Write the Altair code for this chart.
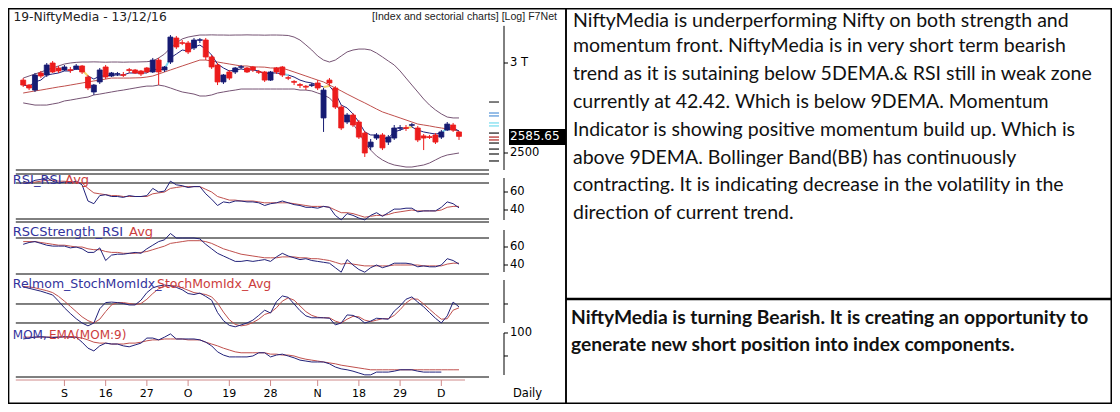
import altair as alt
import pandas as pd

W, H = 1104, 396


def X(v):
    # reference-pixel layout -> view pixel (page has an 8px margin)
    if v <= 20:
        r = v * 12 / 20
    elif v >= 1095:
        r = 1087 + (v - 1095) * 16.25 / 23
    else:
        r = v - 8
    return round(r, 2)


def Y(v):
    if v <= 28:
        r = v * 20 / 28
    elif v >= 390:
        r = 382 + (v - 390) * 13.25 / 21
    else:
        r = v - 8
    return round(r, 2)


NAVY = "#161b72"
RED = "#ec1c1c"
BAND = "#765474"
AVG = "#c0504d"
LINE = "#22227a"
BLACK = "#000000"
LBLUE = "#33339c"
LRED = "#cc3d3d"

# ---------------- data ----------------
opens = [2898, 2869, 2840, 2940, 2928, 3000, 2970, 2958, 2960, 2964,
         2982, 2916, 2829, 2887, 2976, 2922, 2933, 2930, 2960, 2958,
         2952, 2970, 2946, 3018, 2958, 3006, 3156, 3126, 3124, 3093,
         3141, 3143, 3037, 2988, 2887, 2946, 2946, 2974, 2970, 2976,
         2948, 2946, 2898, 2970, 2976, 2912, 2890, 2872, 2862, 2866,
         2881, 2684, 2898, 2852, 2744, 2662, 2700, 2662, 2603, 2531,
         2577, 2593, 2556, 2577, 2628, 2632, 2644, 2630, 2588, 2584,
         2593, 2582, 2619, 2646, 2609]
highs = [2910, 2875, 2940, 2952, 3000, 3012, 2982, 2988, 2976, 2994,
         2988, 2928, 2875, 2970, 2988, 2946, 2946, 2946, 2970, 2964,
         2958, 2976, 3031, 3031, 2982, 3175, 3169, 3143, 3137, 3156,
         3156, 3156, 3049, 3000, 2934, 2958, 2976, 2988, 2976, 2982,
         2958, 2952, 2952, 2976, 2982, 2922, 2898, 2881, 2869, 2881,
         2898, 2852, 2910, 2863, 2755, 2711, 2711, 2673, 2614, 2572,
         2603, 2603, 2593, 2646, 2646, 2646, 2657, 2641, 2598, 2593,
         2603, 2619, 2662, 2657, 2614]
lows = [2858, 2840, 2829, 2910, 2916, 2940, 2940, 2952, 2940, 2958,
        2934, 2840, 2812, 2875, 2904, 2916, 2922, 2916, 2940, 2934,
        2922, 2940, 2940, 2869, 2946, 2994, 3086, 3111, 3055, 3080,
        3124, 3018, 2964, 2869, 2875, 2898, 2934, 2964, 2940, 2946,
        2934, 2887, 2893, 2934, 2916, 2898, 2869, 2852, 2840, 2858,
        2840, 2609, 2863, 2733, 2619, 2651, 2635, 2572, 2480, 2515,
        2567, 2515, 2541, 2567, 2614, 2614, 2635, 2556, 2515, 2572,
        2546, 2572, 2614, 2609, 2567]
closes = [2869, 2852, 2928, 2922, 2988, 2946, 2952, 2976, 2955, 2982,
          2946, 2852, 2869, 2958, 2916, 2940, 2936, 2926, 2955, 2940,
          2934, 2946, 3018, 2946, 2976, 3162, 3099, 3122, 3068, 3143,
          3145, 3037, 2976, 2887, 2928, 2910, 2970, 2978, 2946, 2958,
          2944, 2898, 2946, 2946, 2928, 2909, 2885, 2867, 2857, 2871,
          2852, 2840, 2881, 2744, 2630, 2700, 2646, 2582, 2500, 2556,
          2593, 2526, 2582, 2630, 2632, 2628, 2648, 2567, 2577, 2580,
          2556, 2609, 2651, 2619, 2585.65]
bb_upper = [2910, 2922, 2934, 2946, 2958, 2970, 2982, 2994, 3000, 3004,
            3006, 3006, 3007, 3006, 3005, 3006, 3006, 3005, 3006, 3006,
            3007, 3008, 3012, 3031, 3055, 3093, 3124, 3150, 3162, 3169,
            3175, 3175, 3176, 3175, 3175, 3174, 3175, 3175, 3176, 3175,
            3175, 3174, 3175, 3175, 3174, 3172, 3162, 3143, 3112, 3080,
            3043, 3018, 3006, 3018, 3043, 3068, 3080, 3086, 3086, 3080,
            3061, 3037, 3012, 2988, 2952, 2910, 2869, 2829, 2789, 2755,
            2728, 2706, 2689, 2684, 2684]
bb_mid = [2823, 2829, 2835, 2840, 2846, 2852, 2858, 2863, 2869, 2875,
          2881, 2887, 2893, 2898, 2904, 2910, 2910, 2910, 2910, 2911,
          2912, 2916, 2922, 2934, 2946, 2958, 2970, 2982, 2994, 3006,
          3018, 3018, 3012, 3006, 3000, 2994, 2988, 2982, 2982, 2976,
          2976, 2975, 2970, 2970, 2969, 2958, 2946, 2934, 2922, 2910,
          2898, 2887, 2869, 2852, 2835, 2817, 2800, 2783, 2767, 2750,
          2733, 2717, 2706, 2695, 2684, 2673, 2662, 2651, 2646, 2641,
          2635, 2630, 2625, 2619, 2614]
bb_lower = [2767, 2761, 2755, 2755, 2755, 2761, 2767, 2778, 2783, 2789,
            2795, 2800, 2812, 2817, 2823, 2829, 2835, 2840, 2846, 2852,
            2858, 2863, 2863, 2869, 2863, 2852, 2840, 2829, 2823, 2817,
            2806, 2806, 2812, 2823, 2829, 2835, 2840, 2846, 2846, 2846,
            2846, 2846, 2846, 2846, 2846, 2846, 2846, 2840, 2840, 2835,
            2823, 2812, 2795, 2761, 2717, 2684, 2651, 2609, 2551, 2515,
            2485, 2465, 2450, 2440, 2435, 2430, 2430, 2435, 2440, 2450,
            2465, 2480, 2490, 2495, 2500]
ema5 = [2869, 2863, 2887, 2898, 2928, 2934, 2940, 2952, 2952, 2964,
        2958, 2922, 2904, 2922, 2922, 2928, 2928, 2928, 2940, 2940,
        2940, 2940, 2964, 2958, 2964, 3031, 3055, 3080, 3074, 3099,
        3111, 3086, 3049, 2994, 2970, 2952, 2958, 2964, 2958, 2958,
        2952, 2934, 2940, 2940, 2934, 2928, 2916, 2898, 2887, 2881,
        2869, 2858, 2863, 2823, 2755, 2739, 2706, 2662, 2609, 2593,
        2593, 2572, 2577, 2609, 2619, 2630, 2635, 2619, 2609, 2603,
        2598, 2603, 2630, 2630, 2614]
rsi = [72, 70, 73, 74, 76, 72, 70, 71, 70, 72,
       68, 50, 47, 56, 57, 55, 55, 54, 56, 55,
       55, 56, 64, 60, 61, 72, 68, 67, 65, 66,
       66, 58, 52, 45, 49, 48, 50, 50, 49, 49,
       48, 45, 47, 48, 50, 48, 46, 45, 43, 43,
       42, 44, 43, 34, 29, 36, 34, 31, 29, 34,
       37, 33, 37, 41, 41, 42, 42, 38, 39, 39,
       39, 43, 49, 47, 42.42]
rsi_avg = [70, 70, 71, 72, 73, 73, 72, 72, 71, 71,
           70, 64, 59, 58, 57, 56, 56, 55, 55, 55,
           55, 55, 58, 59, 60, 64, 65, 66, 66, 66,
           66, 63, 60, 55, 53, 51, 51, 50, 50, 50,
           49, 48, 48, 48, 48, 48, 47, 46, 45, 44,
           44, 44, 43, 40, 37, 37, 36, 34, 32, 33,
           34, 34, 35, 37, 38, 39, 40, 39, 39, 39,
           39, 40, 43, 44, 44]
rsc = [63, 65, 66, 64, 62, 61, 61, 61, 59, 60,
       58, 54, 54, 59, 45, 51, 52, 52, 53, 54,
       53, 58, 62, 66, 68, 75, 70, 70, 70, 70,
       69, 63, 58, 53, 50, 47, 44, 44, 45, 44,
       45, 46, 44, 49, 53, 50, 48, 46, 47, 45,
       44, 43, 42, 37, 32, 46, 40, 35, 32, 37,
       40, 37, 39, 42, 42, 42, 41, 38, 39, 38,
       38, 40, 47, 45, 41]
rsc_avg = [66, 66, 66, 65, 64, 63, 62, 62, 61, 60,
           60, 58, 57, 57, 55, 54, 54, 53, 53, 53,
           54, 55, 57, 59, 61, 64, 65, 66, 67, 67,
           67, 66, 64, 61, 58, 56, 54, 52, 51, 50,
           49, 48, 48, 48, 49, 49, 49, 48, 48, 47,
           47, 46, 45, 43, 41, 42, 41, 40, 39, 39,
           39, 39, 39, 40, 40, 40, 40, 40, 39, 39,
           39, 39, 41, 42, 42]
smi = [36, 33, 30, 27, 23, 19, 6, -8, -20, -31,
       -40, -46, -40, -10, 3, 4, 3, 1, -2, -2,
       8, 24, 34, 38, 40, 38, 35, 30, 22, 20,
       23, 16, 8, -18, -35, -45, -48, -44, -40, -34,
       -24, -13, -19, 5, 17, 14, 0, -14, -25, -29,
       -29, -29, -30, -44, -40, -23, -24, -30, -40, -36,
       -30, -31, -32, -15, -4, 10, 15, 4, -6, -18,
       -30, -40, -25, 4, -6]
smi_avg = [37, 36, 34, 31, 28, 24, 16, 6, -5, -16,
           -27, -35, -40, -32, -16, -2, 3, 3, 1, -1,
           1, 10, 22, 32, 37, 39, 38, 34, 29, 24,
           22, 20, 15, 2, -17, -33, -43, -46, -44, -39,
           -32, -22, -18, -8, 6, 13, 8, -4, -16, -24,
           -28, -29, -29, -36, -40, -32, -26, -27, -34, -37,
           -34, -31, -31, -24, -12, 2, 11, 10, 0, -11,
           -22, -32, -31, -13, -8]
mom = [98.7, 98.9, 99.1, 99.2, 99.1, 99.0, 99.1, 99.2, 99.1, 99.1,
       98.0, 96.7, 96.1, 97.2, 97.8, 97.6, 97.6, 97.2, 97.0, 97.4,
       97.8, 98.9, 98.9, 98.5, 99.1, 99.8, 98.7, 98.7, 98.7, 98.7,
       98.5, 98.0, 97.2, 95.9, 95.2, 94.8, 94.8, 94.8, 94.8, 95.0,
       95.7, 95.7, 94.8, 95.2, 95.4, 95.0, 94.6, 94.1, 93.9, 93.7,
       93.7, 93.7, 93.3, 92.6, 92.2, 92.0, 91.7, 91.3, 90.9, 90.9,
       91.5, 91.5, 91.5, 91.7, 92.0, 92.0, 92.0, 91.7, 91.5, 91.5,
       91.5, 91.5, None, None, None]
mom_ema = [99.1, 99.1, 99.1, 99.1, 99.1, 99.1, 99.1, 99.1, 99.1, 99.1,
           98.9, 98.5, 98.0, 97.8, 97.8, 97.6, 97.6, 97.6, 97.8, 97.8,
           98.0, 98.3, 98.5, 98.5, 98.7, 98.7, 98.7, 98.7, 98.5, 98.5,
           98.5, 98.0, 97.6, 97.2, 96.7, 96.3, 95.9, 95.7, 95.7, 95.7,
           95.7, 95.7, 95.4, 95.4, 95.2, 95.2, 95.0, 94.6, 94.3, 94.1,
           93.9, 93.7, 93.5, 93.3, 93.0, 92.8, 92.6, 92.4, 92.2, 92.0,
           92.0, 92.0, 92.0, 92.0, 92.0, 92.0, 92.0, 92.0, 92.0, 92.0,
           92.0, 92.0, 92.0, 92.0, 92.0]

hl_start = [10, 24, 44, 51, 65, 71]
hl_color = ["#f3d36b", "#7fd8f0", "#7fd8f0", "#f3d36b", "#f3d36b", "#7fd8f0"]

level_prices = [2772, 2711, 2695, 2657, 2641, 2603, 2582, 2567, 2551, 2520, 2495, 2460]
level_colors = ["#555555", "#74a9e0", "#74a9e0", "#8fe3f2", "#8fe3f2", "#444444",
                "#c0504d", "#c0504d", "#444444", "#444444", "#444444", "#444444"]

xtick_idx = [7, 14, 21, 28, 35, 42, 50, 57, 64, 71]
xtick_lab = ["S", "16", "27", "O", "19", "28", "N", "18", "29", "D"]

text_lines = [
    "NiftyMedia is underperforming Nifty on both strength and",
    "momentum front. NiftyMedia is in very short term bearish",
    "trend as it is sutaining below 5DEMA.& RSI still in weak zone",
    "currently at 42.42. Which is below 9DEMA. Momentum",
    "Indicator is showing positive momentum build up. Which is",
    "above 9DEMA. Bollinger Band(BB) has continuously",
    "contracting. It is indicating decrease in the volatility in the",
    "direction of current trend.",
]
bold_lines = [
    "NiftyMedia is turning Bearish. It is creating an opportunity to",
    "generate new short position into index components.",
]

# ---------------- tables ----------------
n = len(closes)
df = pd.DataFrame({
    "i": list(range(n)), "open": opens, "high": highs, "low": lows, "close": closes,
    "upper": bb_upper, "mid": bb_mid, "lower": bb_lower, "ema5": ema5,
    "rsi": rsi, "rsi_avg": rsi_avg, "rsc": rsc, "rsc_avg": rsc_avg,
    "smi": smi, "smi_avg": smi_avg, "mom": mom, "mom_ema": mom_ema,
})
df["dir"] = ["up" if c >= o else "down" for o, c in zip(opens, closes)]

hl_rows = []
for k, (s, c) in enumerate(zip(hl_start, hl_color)):
    for j in (s, s + 1):
        hl_rows.append({"i": j, "ema5": ema5[j], "seg": k, "c": c})
hl_df = pd.DataFrame(hl_rows)

ONE = pd.DataFrame({"k": [0]})

xs = alt.Scale(domain=[0, n - 1], range=[X(17), X(464)], nice=False, zero=False)
ps = alt.Scale(type="log", domain=[2415.4, 3207.5], range=[Y(170), Y(30)], nice=False)
rsi_s = alt.Scale(domain=[26.667, 80], range=[Y(222), Y(174)], nice=False, zero=False)
rsc_s = alt.Scale(domain=[30, 87.78], range=[Y(274), Y(222)], nice=False, zero=False)
smi_s = alt.Scale(domain=[-54.74, 58.95], range=[Y(330), Y(276)], nice=False, zero=False)
mom_s = alt.Scale(domain=[89.78, 101.52], range=[Y(380), Y(326)], nice=False, zero=False)

xenc = alt.X("i:Q", scale=xs, axis=None)
dir_scale = alt.Scale(domain=["up", "down"], range=[NAVY, RED])

layers = []


def text(t, x, y, size=12, color=BLACK, align="left", font="DejaVu Sans", weight="normal"):
    return alt.Chart(pd.DataFrame({"t": [t]})).mark_text(
        align=align, baseline="middle", font=font, fontSize=size, color=color,
        fontWeight=weight).encode(x=alt.value(X(x)), y=alt.value(Y(y)), text="t:N")


def hline(x1, x2, y, color=BLACK, w=1.0):
    return alt.Chart(ONE).mark_rule(color=color, strokeWidth=w).encode(
        x=alt.value(X(x1)), x2=alt.value(X(x2)), y=alt.value(Y(y)))


def vline(x, y1, y2, color=BLACK, w=1.0):
    return alt.Chart(ONE).mark_rule(color=color, strokeWidth=w).encode(
        x=alt.value(X(x)), y=alt.value(Y(y1)), y2=alt.value(Y(y2)))


def levels(vals, scale, x1=13, x2=489, color=BLACK, w=1.0):
    return alt.Chart(pd.DataFrame({"v": vals})).mark_rule(color=color, strokeWidth=w).encode(
        y=alt.Y("v:Q", scale=scale, axis=None), x=alt.value(X(x1)), x2=alt.value(X(x2)))


def axis_ticks(vals, labs, scale, size=11):
    d = pd.DataFrame({"v": vals, "t": labs})
    tk = alt.Chart(d).mark_rule(color=BLACK, strokeWidth=1).encode(
        y=alt.Y("v:Q", scale=scale, axis=None), x=alt.value(X(504)), x2=alt.value(X(508)))
    lb = alt.Chart(d).mark_text(align="left", baseline="middle", font="DejaVu Sans",
                                fontSize=size, color=BLACK).encode(
        y=alt.Y("v:Q", scale=scale, axis=None), x=alt.value(X(510)), text="t:N")
    return [tk, lb]


def series(field, scale, color, w=1.0):
    return alt.Chart(df).mark_line(color=color, strokeWidth=w).encode(
        x=xenc, y=alt.Y(f"{field}:Q", scale=scale, axis=None))


# ---------------- panel separator / level lines ----------------
layers += [hline(13, 489, 170), hline(13, 489, 174), hline(13, 489, 222)]
layers.append(levels([70, 30], rsi_s))
layers.append(levels([70, 30], rsc_s))
layers.append(levels([0, -40], smi_s))
layers.append(hline(13, 489, 377))

# ---------------- price panel ----------------
layers.append(series("upper", ps, BAND))
layers.append(series("lower", ps, BAND))
layers.append(series("mid", ps, AVG))
layers.append(series("ema5", ps, LINE))
layers.append(alt.Chart(hl_df).mark_line(strokeWidth=2).encode(
    x=xenc, y=alt.Y("ema5:Q", scale=ps, axis=None), detail="seg:N",
    color=alt.Color("c:N", scale=None)))
layers.append(alt.Chart(df).mark_rule(strokeWidth=1).encode(
    x=xenc, y=alt.Y("low:Q", scale=ps, axis=None), y2="high:Q",
    color=alt.Color("dir:N", scale=dir_scale, legend=None)))
layers.append(alt.Chart(df).mark_bar(size=5, strokeWidth=0.8).encode(
    x=xenc, y=alt.Y("open:Q", scale=ps, axis=None), y2="close:Q",
    color=alt.Color("dir:N", scale=dir_scale, legend=None),
    stroke=alt.Stroke("dir:N", scale=dir_scale, legend=None)))

# price level marks at right
layers.append(alt.Chart(pd.DataFrame({"p": level_prices, "c": level_colors})).mark_rule(
    strokeWidth=1.5).encode(y=alt.Y("p:Q", scale=ps, axis=None), x=alt.value(X(489)),
                            x2=alt.value(X(499)), color=alt.Color("c:N", scale=None)))

# ---------------- indicator panels ----------------
layers.append(series("rsi_avg", rsi_s, AVG))
layers.append(series("rsi", rsi_s, LINE))
layers.append(series("rsc_avg", rsc_s, AVG))
layers.append(series("rsc", rsc_s, LINE))
layers.append(series("smi_avg", smi_s, AVG))
layers.append(series("smi", smi_s, LINE))
layers.append(series("mom_ema", mom_s, AVG))
layers.append(series("mom", mom_s, LINE))

# ---------------- right axes ----------------
layers.append(vline(504, 25, 170))
layers += axis_ticks([3000, 2500], ["3 T", "2500"], ps, 11.5)
layers.append(vline(504, 178, 220))
layers += axis_ticks([60, 40], ["60", "40"], rsi_s, 11.5)
layers.append(vline(504, 230, 272))
layers += axis_ticks([60, 40], ["60", "40"], rsc_s, 11.5)
layers.append(vline(504, 280, 323))
layers += axis_ticks([0], [""], smi_s)
layers.append(vline(504, 333, 375))
layers += axis_ticks([100, 95], ["100", ""], mom_s, 11.5)

# last price box
layers.append(alt.Chart(ONE).mark_rect(color=BLACK).encode(
    x=alt.value(X(509)), x2=alt.value(X(566)), y=alt.value(Y(129)), y2=alt.value(Y(145))))
layers.append(alt.Chart(pd.DataFrame({"v": [closes[-1]], "t": [f"{closes[-1]:.2f}"]})).mark_text(
    align="left", baseline="middle", font="DejaVu Sans", fontSize=12, color="white").encode(
    y=alt.Y("v:Q", scale=ps, axis=None), x=alt.value(X(510)), text="t:N"))

# ---------------- x axis ----------------
layers.append(hline(13, 465, 380, color="#cf8a8a"))
xt = pd.DataFrame({"i": xtick_idx, "t": xtick_lab})
layers.append(alt.Chart(xt).mark_rule(color="#cf8a8a").encode(
    x=xenc, y=alt.value(Y(380)), y2=alt.value(Y(386))))
layers.append(alt.Chart(xt).mark_text(baseline="middle", font="DejaVu Sans", fontSize=11,
                                      color=BLACK).encode(x=xenc, y=alt.value(Y(397)), text="t:N"))
layers.append(text("Daily", 513, 397, 11.5))

# ---------------- titles / labels ----------------
layers.append(text("19-NiftyMedia - 13/12/16", 9, 13, 12.3, "#222222"))
layers.append(text("[Index and sectorial charts] [Log] F7Net", 557, 13, 10.6, "#222222",
                   align="right", font="Liberation Sans"))
layers.append(text("RSI_RSI", 8, 180, 13, LBLUE))
layers.append(text("Avg", 65, 180, 13, LRED))
layers.append(text("RSCStrength_RSI", 8, 232, 13, LBLUE))
layers.append(text("Avg", 129, 232, 13, LRED))
layers.append(text("Relmom_StochMomIdx_", 8, 284, 12.5, LBLUE))
layers.append(text("StochMomIdx_Avg", 157, 284, 12.5, LRED))
layers.append(text("MOM,", 8, 335, 12, LBLUE))
layers.append(text("EMA(MOM:9)", 49, 335, 12, LRED))

# ---------------- right text panels ----------------
for k, t in enumerate(text_lines):
    layers.append(text(t, 573, 18 + 27.9 * k, 19.5, "#111111", font="Lato"))
bold_y = [318, 345]
for t, yy in zip(bold_lines, bold_y):
    layers.append(text(t, 571, yy, 19.2, "#111111", font="Lato", weight="bold"))


# ---------------- frames ----------------
def frame(x1, y1, x2, y2, w=1.5):
    return alt.Chart(ONE).mark_rect(fill="#ffffff", fillOpacity=0, stroke=BLACK, strokeWidth=w).encode(
        x=alt.value(X(x1)), x2=alt.value(X(x2)), y=alt.value(Y(y1)), y2=alt.value(Y(y2)))


layers.append(frame(1, 1, 566, 411))
layers.append(frame(566, 1, 1118, 411))
layers.append(hline(566, 1118, 299, w=2.5))

chart = alt.layer(*layers).resolve_scale(y="independent").properties(
    width=W, height=H, padding=0, autosize=alt.AutoSizeParams(type="none")
).configure_view(strokeWidth=0)

chart.save("out.html", embed_options={"renderer": "svg", "actions": False})
